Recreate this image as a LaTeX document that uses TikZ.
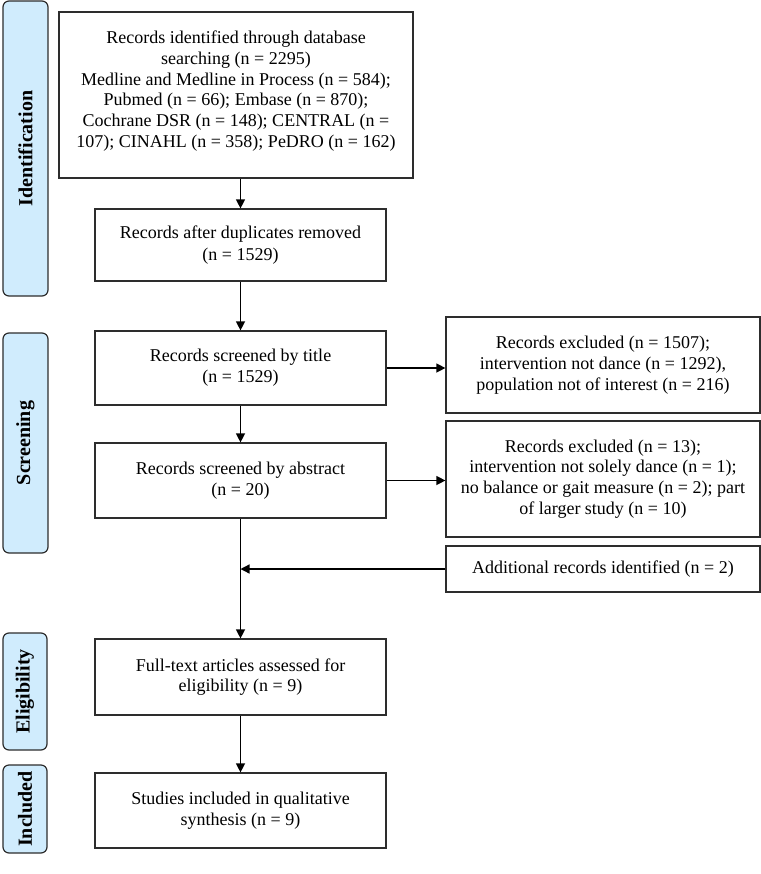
\documentclass[tikz,border=0pt]{standalone}
\usepackage{fontspec}
\setmainfont{Liberation Serif}
\usetikzlibrary{arrows.meta}
\definecolor{sidefill}{RGB}{208,236,253}
\definecolor{edge}{RGB}{45,45,45}
\begin{document}
\begin{tikzpicture}[x=1bp,y=-1bp,
  box/.style={draw=edge, line width=1.2bp, fill=white, inner sep=0pt, align=center,
    font=\fontsize{18bp}{20.8bp}\selectfont},
  side/.style={draw=edge, line width=1.2bp, fill=sidefill, rounded corners=6bp, rotate=90,
    inner sep=0pt, font=\fontsize{20bp}{22bp}\selectfont\bfseries},
  conn/.style={line width=1.3bp, draw=black},
  arr/.style={conn, -{Triangle[length=9bp,width=9bp]}}]
\useasboundingbox (0,0) rectangle (761,874);
% side labels
\node[side, minimum width=295bp, minimum height=45bp] (sI) at (25.5,148.5) {Identification};
\node[side, minimum width=220bp, minimum height=45bp] (sS) at (25.5,443) {Screening};
\node[side, minimum width=117bp, minimum height=44bp] (sE) at (25,691.5) {Eligibility};
\node[side, minimum width=88bp, minimum height=44bp] (sN) at (25,809) {Included};
% main boxes
\node[box, minimum width=354bp, minimum height=166bp] (b1) at (236,95) {Records identified through database\\ searching (n = 2295)\\ Medline and Medline in Process (n = 584);\\ Pubmed (n = 66); Embase (n = 870);\\ Cochrane DSR (n = 148); CENTRAL (n =\\ 107); CINAHL (n = 358); PeDRO (n = 162)\\[-9bp]};
\node[box, minimum width=291bp, minimum height=72bp] (b2) at (240.5,245) {Records after duplicates removed\\[2bp] (n = 1529)};
\node[box, minimum width=291bp, minimum height=74bp] (b3) at (240.5,368) {Records screened by title\\ (n = 1529)};
\node[box, minimum width=291bp, minimum height=75bp] (b4) at (240.5,480.5) {Records screened by abstract\\ (n = 20)};
\node[box, minimum width=291bp, minimum height=76bp] (el) at (240.5,677) {Full-text articles assessed for\\ eligibility (n = 9)};
\node[box, minimum width=291bp, minimum height=75bp] (in) at (240.5,810.5) {Studies included in qualitative\\ synthesis (n = 9)};
\node[box, minimum width=314bp, minimum height=96bp] (exA) at (603,365) {Records excluded (n = 1507);\\ intervention not dance (n = 1292),\\ population not of interest (n = 216)};
\node[box, minimum width=314bp, minimum height=116bp] (exB) at (603,479) {Records excluded (n = 13);\\ intervention not solely dance (n = 1);\\ no balance or gait measure (n = 2); part\\ of larger study (n = 10)};
\node[box, minimum width=314bp, minimum height=46bp] (add) at (603,569) {Additional records identified (n = 2)};
% connectors
\draw[arr] (b2.north |- b1.south) -- (b2.north);
\draw[arr] (b2.south) -- (b3.north);
\draw[arr] (b3.south) -- (b4.north);
\draw[arr] (b3.east) -- (b3.east -| exA.west);
\draw[arr] (b4.east) -- (b4.east -| exB.west);
\draw[arr] (b4.south) -- (el.north);
\draw[arr] (add.west) -- (add.west -| b4.south);
\draw[arr] (el.south) -- (in.north);
\end{tikzpicture}
\end{document}
